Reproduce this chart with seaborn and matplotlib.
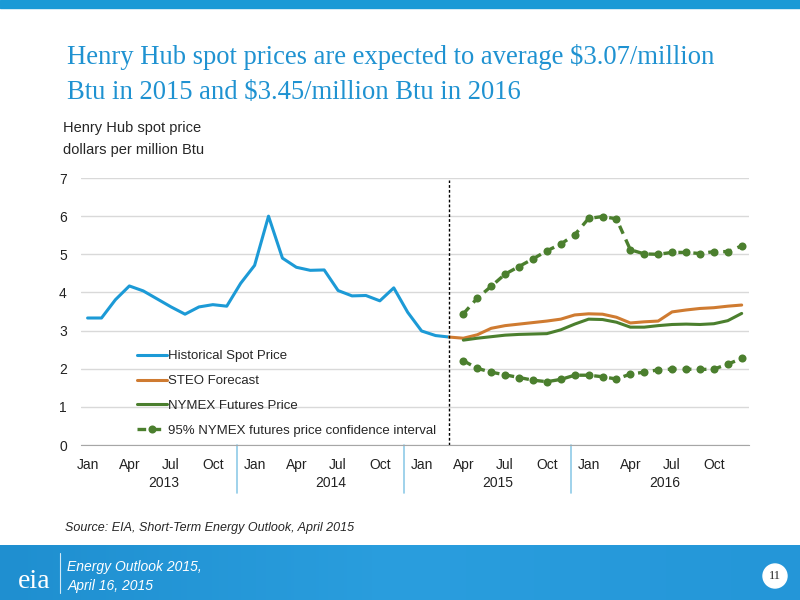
import numpy as np
import pandas as pd
import matplotlib
matplotlib.use("Agg")
import matplotlib.pyplot as plt
import matplotlib.transforms as mtransforms
from matplotlib.lines import Line2D
from matplotlib.patches import Rectangle, Circle
import seaborn as sns

# monthly data, Jan 2013 - Dec 2016
months = pd.date_range("2013-01-01", "2016-12-01", freq="MS")

historical = [3.33, 3.33, 3.81, 4.17, 4.04, 3.83, 3.62, 3.43, 3.62, 3.68, 3.64, 4.24,
              4.71, 6.00, 4.90, 4.66, 4.58, 4.59, 4.05, 3.91, 3.92, 3.78, 4.12, 3.48,
              2.99, 2.87, 2.83]
steo = [2.83, 2.80, 2.89, 3.06, 3.13, 3.17, 3.21, 3.25, 3.30, 3.41,
        3.44, 3.43, 3.35, 3.20, 3.23, 3.25, 3.49, 3.54, 3.58, 3.60, 3.64, 3.67]
nymex = [2.75, 2.80, 2.84, 2.88, 2.90, 2.91, 2.92, 3.02, 3.17,
         3.30, 3.29, 3.22, 3.09, 3.09, 3.13, 3.16, 3.17, 3.16, 3.18, 3.26, 3.45]
ci_upper = [3.44, 3.85, 4.16, 4.48, 4.68, 4.88, 5.09, 5.27, 5.51,
            5.94, 5.99, 5.93, 5.12, 5.01, 5.00, 5.05, 5.05, 5.02, 5.07, 5.07, 5.22]
ci_lower = [2.21, 2.01, 1.91, 1.84, 1.77, 1.70, 1.66, 1.72, 1.83,
            1.83, 1.79, 1.73, 1.86, 1.91, 1.97, 1.99, 1.99, 1.98, 1.99, 2.12, 2.27]

month_labels = ["Jan", "Apr", "Jul", "Oct"]
year_labels = ["2013", "2014", "2015", "2016"]
forecast_start = "2015-03-01"

blue = "#1c9ad6"
orange = "#cf7b31"
green = "#4b7f2e"
title_blue = "#1f92d1"

sns.set_style("white")
plt.rcParams["font.family"] = ["Liberation Sans", "DejaVu Sans"]


def series_df(values, start):
    pos = list(months).index(pd.Timestamp(start))
    return pd.DataFrame({"x": np.arange(pos, pos + len(values)), "y": values})


ci_style = dict(color=green, lw=2.4, linestyle=(0, (2.6, 1.9)),
                marker="o", markersize=5.8, markeredgewidth=0)

fig = plt.figure(figsize=(8, 6), dpi=100)
ax = fig.add_axes([0.1008, 0.2583, 0.835, 0.445])

sns.lineplot(data=series_df(historical, "2013-01-01"), x="x", y="y", ax=ax,
             color=blue, lw=2.2)
sns.lineplot(data=series_df(steo, forecast_start), x="x", y="y", ax=ax,
             color=orange, lw=2.2)
sns.lineplot(data=series_df(nymex, "2015-04-01"), x="x", y="y", ax=ax,
             color=green, lw=2.2)
for ci in (ci_upper, ci_lower):
    sns.lineplot(data=series_df(ci, "2015-04-01"), x="x", y="y", ax=ax, **ci_style)

# forecast divider
fpos = list(months).index(pd.Timestamp(forecast_start))
ax.plot([fpos, fpos], [0, 6.95], color="black", lw=1, ls=(0, (2, 1.5)))

ax.set_xlim(-0.5, len(months) - 0.5)
ax.set_ylim(0, 7)
ax.set_yticks(range(0, 8))
ax.tick_params(axis="y", length=0, labelsize=10, labelcolor="#222222", pad=10)
ax.grid(axis="y", color="#d9d9d9", lw=1)
ax.set_axisbelow(True)
for s in ["left", "right", "top"]:
    ax.spines[s].set_visible(False)
ax.spines["bottom"].set_color("#a6a6a6")

ax.set_xticks(np.arange(-0.5, len(months), 3))
ax.set_xticklabels([])
ax.tick_params(axis="x", length=5, color="#a6a6a6", width=1)
ax.set_xlabel("")
ax.set_ylabel("")

trans = mtransforms.blended_transform_factory(ax.transData, ax.transAxes)
for i in range(0, len(months), 3):
    ax.annotate(month_labels[(i // 3) % 4], (i, 0), xycoords=trans,
                xytext=(0, -9.5), textcoords="offset points",
                ha="center", va="top", fontsize=10, color="#222222")
for k, yr in enumerate(year_labels):
    ax.annotate(yr, (12 * k + 5.5, 0), xycoords=trans,
                xytext=(0, -22.5), textcoords="offset points",
                ha="center", va="top", fontsize=10, color="#222222")
    if k > 0:
        ax.plot([12 * k - 1.25, 12 * k - 1.25], [0, -0.178], transform=trans,
                color="#8fcbe8", lw=1.2, clip_on=False)

handles = [
    Line2D([], [], color=blue, lw=2.2),
    Line2D([], [], color=orange, lw=2.2),
    Line2D([], [], color=green, lw=2.2),
    Line2D([], [], **ci_style),
]
labels = ["Historical Spot Price", "STEO Forecast", "NYMEX Futures Price",
          "95% NYMEX futures price confidence interval"]
ax.legend(handles, labels, loc="upper left", bbox_to_anchor=(0.076, 0.375),
          frameon=False, fontsize=9.5, handlelength=2.3, handletextpad=0.05,
          labelspacing=0.95, numpoints=1, borderaxespad=0)

# slide decorations
fig.patches.append(Rectangle((0, 1 - 8 / 600), 1, 8 / 600, transform=fig.transFigure,
                             color="#1a9ad6", zorder=0))
fig.text(0.084, 1 - 64 / 600, "Henry Hub spot prices are expected to average $3.07/million",
         fontsize=19.2, color=title_blue, family="Liberation Serif", va="baseline")
fig.text(0.084, 1 - 99 / 600, "Btu in 2015 and $3.45/million Btu in 2016",
         fontsize=19.2, color=title_blue, family="Liberation Serif", va="baseline")
fig.text(0.079, 1 - 128 / 600, "Henry Hub spot price", fontsize=10.5, va="center")
fig.text(0.079, 1 - 150 / 600, "dollars per million Btu", fontsize=10.5, va="center")
fig.text(0.081, 1 - 528 / 600, "Source: EIA, Short-Term Energy Outlook, April 2015",
         fontsize=9, style="italic", va="center")

footer = fig.add_axes([0, 0, 1, 55 / 600])
grad = np.linspace(0, 1, 256).reshape(1, -1)
footer.imshow(grad, aspect="auto", cmap=matplotlib.colors.LinearSegmentedColormap.from_list(
    "ft", ["#1f8fd0", "#2a9ede", "#2496d8"]), extent=[0, 1, 0, 1])
footer.set_xlim(0, 1)
footer.set_ylim(0, 1)
footer.axis("off")
footer.text(0.043, 0.33, "eia", color="white", fontsize=20, family="Liberation Serif",
            ha="center", va="center")
footer.plot([0.075, 0.075], [0.12, 0.85], color="#cfe9f7", lw=0.8)
footer.text(0.084, 0.6, "Energy Outlook 2015,", color="white", fontsize=10,
            style="italic", va="center")
footer.text(0.084, 0.26, "April 16, 2015", color="white", fontsize=10,
            style="italic", va="center")
fig.patches.append(Circle((775, 600 - 576), 12, transform=None, color="white", zorder=5))
fig.text(775 / 800, 24 / 600, "11", fontsize=9, family="Liberation Serif",
         ha="center", va="center", zorder=6)

fig.savefig("out.png", dpi=100)
